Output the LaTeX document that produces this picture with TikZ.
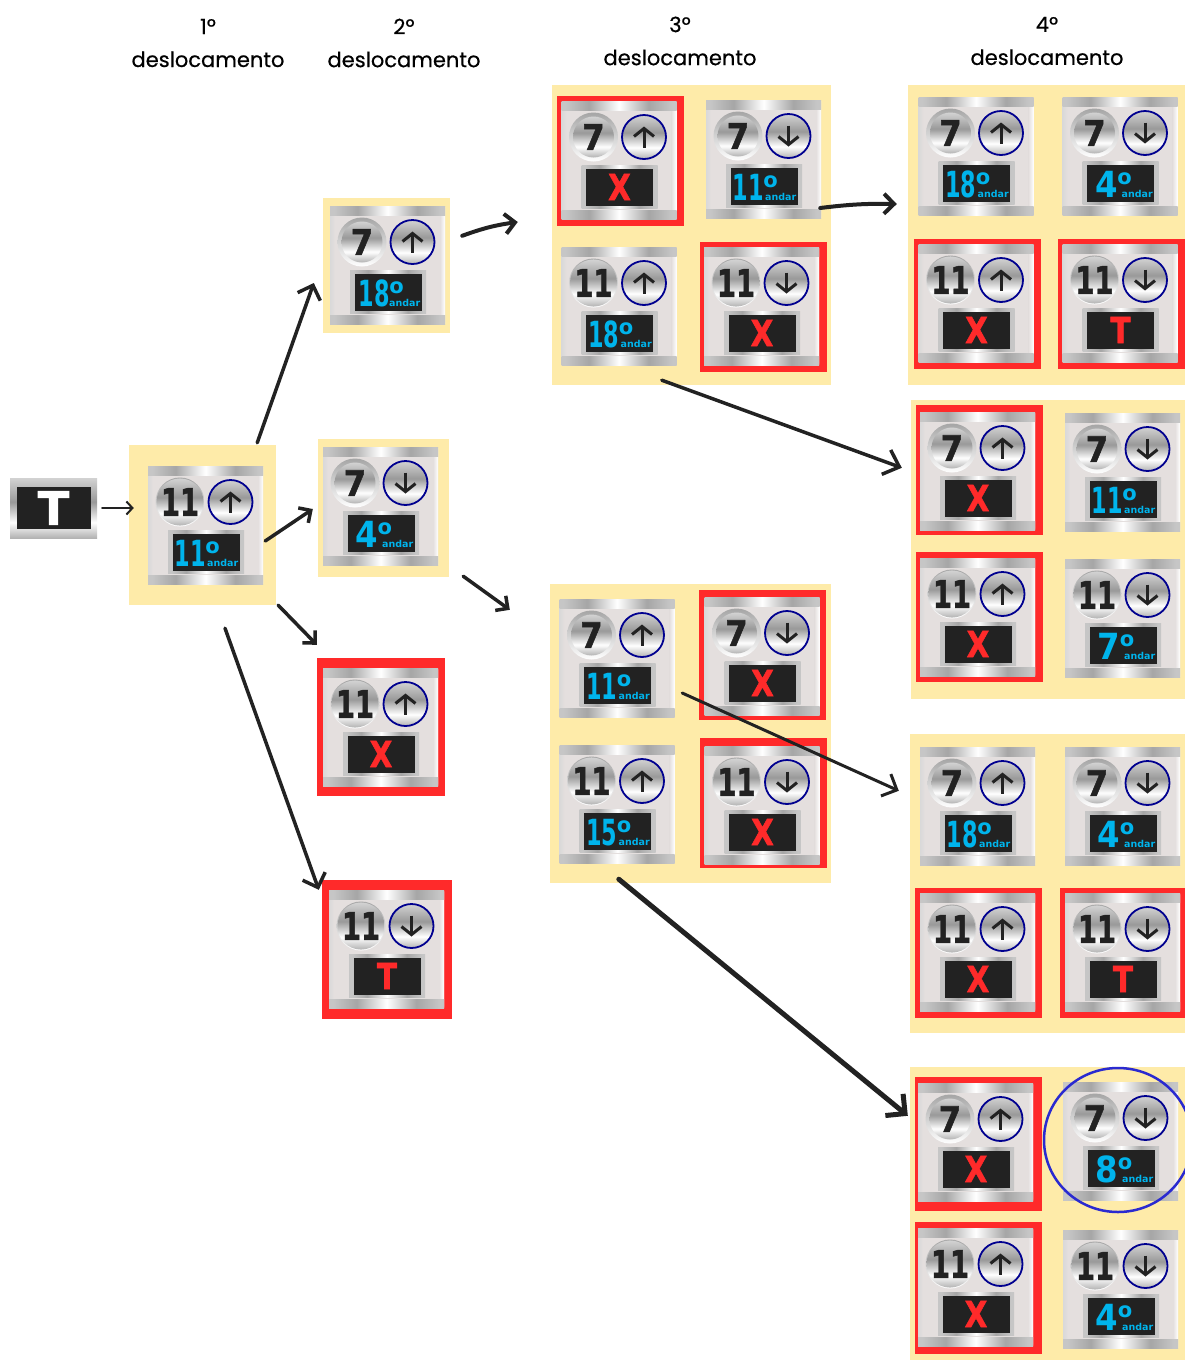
\documentclass[tikz,border=0pt]{standalone}
\usepackage{fontspec}
\usepackage{color}
\usetikzlibrary{arrows.meta}
\usetikzlibrary{shapes}
\setmainfont[FakeBold=0.5]{Poppins}
\newfontfamily\panelfont{DejaVu Sans}
\newfontfamily\heavyfont[UprightFont=* Bold,FakeBold=1.5]{DejaVu Sans}
\definecolor{sand}{HTML}{FEEBA9}
\definecolor{alarm}{HTML}{FF2A2A}
\definecolor{plate}{HTML}{E4DFDE}
\definecolor{screen}{HTML}{222222}
\definecolor{lcd}{HTML}{00B4EC}
\definecolor{ringblue}{HTML}{00008F}
\definecolor{markblue}{HTML}{2A2AD0}
\pgfdeclarehorizontalshading{metalh}{100bp}{color(0bp)=(gray!45);color(27bp)=(gray!45);color(37bp)=(gray!70);color(50bp)=(white);color(63bp)=(gray!70);color(73bp)=(gray!45);color(100bp)=(gray!45)}
\pgfdeclareverticalshading{metalv}{100bp}{color(0bp)=(gray!60);color(25bp)=(gray!60);color(38bp)=(white);color(55bp)=(gray!80);color(75bp)=(gray!35);color(100bp)=(gray!35)}
\pgfdeclareverticalshading{ringv}{100bp}{color(0bp)=(white);color(25bp)=(white);color(50bp)=(gray!35);color(75bp)=(gray!70);color(100bp)=(gray!70)}
\newcommand{\btnseven}{\fontsize{35}{35}\selectfont\scalebox{.92}[1]{7}}
\newcommand{\btneleven}{\fontsize{38}{38}\selectfont\scalebox{.72}[1]{11}}
\newcommand{\grau}{\kern-.5pt\raisebox{13pt}{\panelfont\bfseries\fontsize{21}{21}\selectfont o}}
\newcommand{\basepanel}[4]{%
    \node[plate node] (#1) at (#2) {};
    \node[strip node,left color=gray!30,right color=plate,anchor=west] (#1-l) at (#1.west) {};
    \node[strip node,left color=plate,right color=white,anchor=east] (#1-r) at (#1.east) {};
    \node[band node,anchor=north] (#1-t) at (#1.north) {};
    \node[band node,anchor=south] (#1-b) at (#1.south) {};
    \node[outer button] at ([xshift=-25.5pt,yshift=23pt]#1.center) (#1-ring) {};
    \node[inner button] at (#1-ring.center) (#1-floor) {\heavyfont #3};
    \node[dir button] at ([xshift=25pt,yshift=23pt]#1.center) (#1-dir) {};
    \draw[dir line] ([yshift=#4*-10.5pt]#1-dir.center) -- ([yshift=#4*10.5pt]#1-dir.center);
    \node[frame node] at ([xshift=.5pt,yshift=-27pt]#1.center) (#1-frame) {};
    \node[screen node] at (#1-frame.center) (#1-show) {};
}
\newcommand{\numpanel}[7]{%
    \basepanel{#1}{#2}{#3}{#4}
    \node[text=lcd,inner sep=0pt,anchor=base west] at ([xshift=-33.5pt+#5pt,yshift=-14pt]#1-show.center) (#1-num) {\panelfont\bfseries\fontsize{36}{36}\selectfont\scalebox{#6}[1]{#7}\grau};
    \node[text=lcd,inner sep=0pt,anchor=base east] at ([xshift=32.5pt,yshift=-14pt]#1-show.center) (#1-andar) {\panelfont\bfseries\fontsize{9.5}{9.5}\selectfont andar};
}
\newcommand{\letterpanel}[5]{%
    \basepanel{#1}{#2}{#3}{#4}
    \node[text=alarm,inner sep=0pt] at (#1-show.center) (#1-letter) {\heavyfont\fontsize{36}{36}\selectfont\scalebox{.82}[1]{#5}};
}

\begin{document}
\begin{tikzpicture}[x=1pt,y=-1pt]
    \tikzstyle{group node}=[draw=none,fill=sand,inner sep=0pt,rectangle]
    \tikzstyle{red node}=[fill=alarm,inner sep=0pt,rectangle,minimum width=127pt,minimum height=130pt]
    \tikzstyle{plate node}=[fill=plate,inner sep=0pt,rectangle,rounded corners=1.5pt,minimum width=115pt,minimum height=118pt]
    \tikzstyle{strip node}=[inner sep=0pt,rectangle,minimum width=5pt,minimum height=116pt]
    \tikzstyle{band node}=[inner sep=0pt,rectangle,shading=metalh,minimum width=115pt,minimum height=9pt]
    \tikzstyle{outer button}=[circle,inner sep=0pt,minimum size=49pt,shading=ringv]
    \tikzstyle{inner button}=[circle,inner sep=0pt,minimum size=41pt,shading=metalv,text=screen]
    \tikzstyle{dir button}=[circle,inner sep=0pt,minimum size=44pt,shading=metalv,draw=ringblue,line width=1.8pt]
    \tikzstyle{dir line}=[-{Straight Barb[length=8pt,width=20pt,line width=3pt]},line width=3pt,draw=screen]
    \tikzstyle{frame node}=[inner sep=0pt,rectangle,shading=metalh,minimum width=76pt,minimum height=43pt]
    \tikzstyle{screen node}=[fill=screen,inner sep=0pt,rectangle,minimum width=67pt,minimum height=37pt]
    \tikzstyle{head node}=[align=center,inner sep=0pt,font=\fontsize{21}{33}\selectfont,text=black]
    \tikzstyle{link}=[-{Straight Barb[length=12pt,width=24pt]},draw=screen,line cap=round]

    \useasboundingbox (0,0) rectangle (1185,1361);

    \node[head node] (head1) at (208,43) {1º\\deslocamento};
    \node[head node] (head2) at (404,43) {2º\\deslocamento};
    \node[head node] (head3) at (680,41) {3º\\deslocamento};
    \node[head node] (head4) at (1047,41) {4º\\deslocamento};

    \node[group node,minimum width=147pt,minimum height=160pt] (first) at (202.5,525) {};
    \node[group node,minimum width=127pt,minimum height=135pt] (second18) at (386.5,265.5) {};
    \node[group node,minimum width=131pt,minimum height=138pt] (second4) at (383.5,508) {};
    \node[group node,minimum width=279pt,minimum height=300pt] (upper) at (691.5,235) {};
    \node[group node,minimum width=281pt,minimum height=299pt] (lower) at (690.5,733.5) {};
    \node[group node,minimum width=277pt,minimum height=300pt] (fourthA) at (1046.5,235) {};
    \node[group node,minimum width=274pt,minimum height=299pt] (fourthB) at (1048,549.5) {};
    \node[group node,minimum width=275pt,minimum height=299pt] (fourthC) at (1047.5,883.5) {};
    \node[group node,minimum width=275pt,minimum height=293pt] (fourthD) at (1047.5,1213.5) {};

    \node[red node,minimum width=128pt,minimum height=138pt] (secondX) at (381,727) {};
    \node[red node,minimum width=130pt,minimum height=139pt] (secondT) at (387,949.5) {};
    \node[red node] (upperRedA) at (620.5,161) {};
    \node[red node] (upperRedD) at (763,306.5) {};
    \node[red node] (lowerRedB) at (762.5,655) {};
    \node[red node] (lowerRedD) at (763.5,802.5) {};
    \node[red node] (fourthRedAC) at (977.5,304) {};
    \node[red node] (fourthRedAD) at (1121.5,304) {};
    \node[red node] (fourthRedBA) at (979.5,470) {};
    \node[red node] (fourthRedBC) at (979.5,617) {};
    \node[red node] (fourthRedCC) at (978.5,953) {};
    \node[red node] (fourthRedCD) at (1123,953) {};
    \node[red node,minimum height=134pt] (fourthRedDA) at (978,1144) {};
    \node[red node,minimum height=132pt] (fourthRedDC) at (978,1288) {};

    \node[inner sep=0pt,minimum width=87pt,minimum height=60pt,shading=metalv] (startframe) at (53.5,508) {};
    \node[fill=screen,inner sep=0pt,minimum width=74pt,minimum height=42pt,text=white] (start) at (53.5,508) {\heavyfont\fontsize{46}{46}\selectfont T};

    \numpanel{firstP}{205.5,525}{\btneleven}{1}{2}{.62}{11}

    \numpanel{p18}{387.5,265}{\btnseven}{1}{4}{.62}{18}
    \numpanel{p4}{380.5,506}{\btnseven}{-1}{8}{.9}{4}
    \letterpanel{pX}{380.5,727}{\btneleven}{1}{X}
    \letterpanel{pT}{386.5,949}{\btneleven}{-1}{T}

    \letterpanel{ua}{619,160}{\btnseven}{1}{X}
    \numpanel{ub}{763.5,159}{\btnseven}{-1}{2}{.62}{11}
    \numpanel{uc}{619,306}{\btneleven}{1}{2}{.62}{18}
    \letterpanel{ud}{761.5,306}{\btneleven}{-1}{X}

    \numpanel{la}{617,658}{\btnseven}{1}{2}{.62}{11}
    \letterpanel{lb}{762,656}{\btnseven}{-1}{X}
    \numpanel{lc}{617,804}{\btneleven}{1}{2}{.62}{15}
    \letterpanel{ld}{762,805}{\btneleven}{-1}{X}

    \numpanel{aa}{976,156}{\btnseven}{1}{2}{.62}{18}
    \numpanel{ab}{1120,156}{\btnseven}{-1}{8}{.9}{4}
    \letterpanel{ac}{976,303}{\btneleven}{1}{X}
    \letterpanel{ad}{1120,303}{\btneleven}{-1}{T}

    \letterpanel{ba}{977.5,471}{\btnseven}{1}{X}
    \numpanel{bb}{1122.5,472}{\btnseven}{-1}{2}{.62}{11}
    \letterpanel{bc}{977.5,617}{\btneleven}{1}{X}
    \numpanel{bd}{1122.5,618}{\btneleven}{-1}{8}{.9}{7}

    \numpanel{ca}{977.5,806}{\btnseven}{1}{2}{.62}{18}
    \numpanel{cb}{1122.5,806}{\btnseven}{-1}{8}{.9}{4}
    \letterpanel{cc}{977.5,952}{\btneleven}{1}{X}
    \letterpanel{cd}{1122.5,952}{\btneleven}{-1}{T}

    \letterpanel{da}{975.5,1142}{\btnseven}{1}{X}
    \numpanel{db}{1120.5,1141}{\btnseven}{-1}{8}{.9}{8}
    \letterpanel{dc}{975.5,1287}{\btneleven}{1}{X}
    \numpanel{dd}{1120.5,1289}{\btneleven}{-1}{8}{.9}{4}

    \node[draw=markblue,line width=2.5pt,ellipse,inner sep=0pt,minimum width=148pt,minimum height=144pt] (answer) at (1118,1140) {};

    \draw[link,line width=2pt,-{Straight Barb[length=6pt,width=13pt]}] ([xshift=5pt]startframe.east) -- ([xshift=5pt,yshift=17pt]first.west);
    \draw[link,line width=3.5pt] ([xshift=-19pt,yshift=2pt]first.north east) -- ([xshift=-9pt,yshift=-17.5pt]second18.west);
    \draw[link,line width=3.5pt,-{Straight Barb[length=9pt,width=18pt]}] ([xshift=-11pt,yshift=-16pt]first.east) -- ([xshift=-5pt,yshift=-1pt]second4.west);
    \draw[link,line width=3.5pt,-{Straight Barb[length=9pt,width=18pt]}] ([xshift=2pt]first.south east) -- ([yshift=13pt]secondX.north west);
    \draw[link,line width=3.5pt] ([xshift=22.5pt,yshift=-23pt]first.south) -- ([xshift=-3pt,yshift=-10pt]secondT.north west);
    \draw[link,line width=4pt,-{Straight Barb[length=10pt,width=20pt]}] ([xshift=12pt,yshift=-38pt]second18.north east) to[bend left=6] ([xshift=-34pt,yshift=13pt]upper.west);
    \draw[link,line width=3.5pt,-{Straight Barb[length=9pt,width=18pt]}] ([xshift=14pt,yshift=1pt]second4.south east) -- ([xshift=-40pt,yshift=-26pt]lower.north west);
    \draw[link,line width=4pt,-{Straight Barb[length=10pt,width=20pt]}] ([xshift=-1pt,yshift=-49pt]ub.east) to[bend left=4] ([xshift=-11pt,yshift=31pt]fourthA.west);
    \draw[link,line width=3.5pt,-{Straight Barb[length=14pt,width=26pt]}] ([xshift=110pt,yshift=5pt]upper.south west) -- ([xshift=-9pt,yshift=-68pt]fourthB.north west);
    \draw[link,line width=3pt] ([xshift=7.5pt,yshift=-35pt]la.east) -- ([xshift=-11pt,yshift=-57pt]fourthC.north west);
    \draw[link,line width=5pt,-{Straight Barb[length=14pt,width=28pt]}] ([xshift=69pt,yshift=4pt]lower.south west) -- ([xshift=-2pt,yshift=-49pt]fourthD.north west);
\end{tikzpicture}
\end{document}
